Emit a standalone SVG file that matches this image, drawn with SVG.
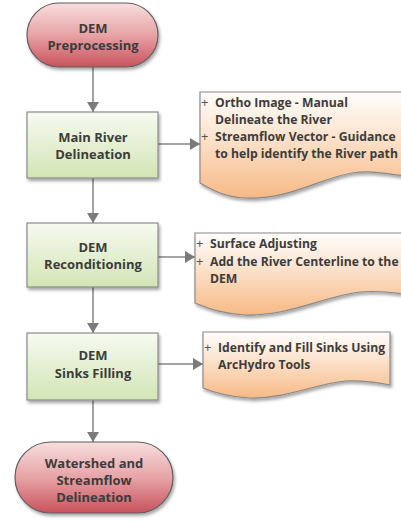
<svg xmlns="http://www.w3.org/2000/svg" width="401" height="522" viewBox="0 0 401 522">
<defs>
<linearGradient id="gRed" x1="0" y1="0" x2="0" y2="1">
<stop offset="0" stop-color="#f8dede"/><stop offset="0.5" stop-color="#e7a3a6"/><stop offset="1" stop-color="#c9525c"/>
</linearGradient>
<linearGradient id="gGreen" x1="0" y1="0" x2="0" y2="1">
<stop offset="0" stop-color="#f6faf0"/><stop offset="1" stop-color="#d3e5b5"/>
</linearGradient>
<linearGradient id="gOrange" x1="0" y1="0" x2="0" y2="1">
<stop offset="0" stop-color="#fffdfb"/><stop offset="0.35" stop-color="#fde8d6"/><stop offset="1" stop-color="#f7b985"/>
</linearGradient>
<filter id="sh" x="-10%" y="-10%" width="125%" height="130%">
<feDropShadow dx="1.5" dy="2.5" stdDeviation="1.8" flood-color="#000" flood-opacity="0.35"/>
</filter>
<marker id="arr" viewBox="0 0 10 12" refX="10" refY="6" markerWidth="10" markerHeight="12" markerUnits="userSpaceOnUse" orient="auto">
<path d="M0,0 L10,6 L0,12 Z" fill="#7b7b7b"/>
</marker>
</defs>
<style>
.term{fill:url(#gRed);stroke:#5f5f5f;stroke-width:1.2;filter:url(#sh)}
.box{fill:url(#gGreen);stroke:#8a8a8a;stroke-width:1.2;filter:url(#sh)}
.doc{fill:url(#gOrange);stroke:#8a8a8a;stroke-width:1.2;filter:url(#sh)}
.t{font-family:"Open Sans","Noto Sans","Liberation Sans",sans-serif;font-weight:bold;font-size:13px;fill:#3c3c3c;text-anchor:middle}
.d{font-family:"Open Sans","Noto Sans","Liberation Sans",sans-serif;font-weight:bold;font-size:12.2px;fill:#3c3c3c}
.p{font-family:"Open Sans","Noto Sans","Liberation Sans",sans-serif;font-weight:normal;font-size:13px;fill:#555}
.c{stroke:#858585;stroke-width:1.5;fill:none;marker-end:url(#arr)}
</style>
<g id="connectors">
<line class="c" x1="93" y1="67" x2="93" y2="112"/>
<line class="c" x1="93" y1="178" x2="93" y2="223"/>
<line class="c" x1="93" y1="287" x2="93" y2="333"/>
<line class="c" x1="93" y1="400" x2="93" y2="442"/>
<line class="c" x1="158" y1="144" x2="200" y2="144"/>
<line class="c" x1="158" y1="257" x2="195" y2="257"/>
<line class="c" x1="158" y1="364" x2="203" y2="364"/>
</g>
<g id="n1">
<rect class="term" x="27" y="3" width="131" height="64" rx="32"/>
<text class="t" x="93" y="33">DEM</text>
<text class="t" x="93" y="50">Preprocessing</text>
</g>
<g id="n2">
<rect class="box" x="27" y="112" width="131" height="66"/>
<text class="t" x="93" y="142">Main River</text>
<text class="t" x="93" y="159">Delineation</text>
</g>
<g id="d1">
<path class="doc" d="M200,92 H412 V177 C390,174 372,170 352,173 C320,178 290,200 245,198 C225,197 212,190 200,183 Z"/>
<text class="p" x="201" y="107">+</text>
<text class="d" x="215" y="107">Ortho Image - Manual</text>
<text class="d" x="215" y="124">Delineate the River</text>
<text class="p" x="201" y="141">+</text>
<text class="d" x="215" y="141">Streamflow Vector - Guidance</text>
<text class="d" x="215" y="158">to help identify the River path</text>
</g>
<g id="n3">
<rect class="box" x="27" y="223" width="131" height="64"/>
<text class="t" x="93" y="252">DEM</text>
<text class="t" x="93" y="269">Reconditioning</text>
</g>
<g id="d2">
<path class="doc" d="M195,233 H412 V295 C395,293 380,290 360,292 C325,296 290,316 245,315 C222,314 208,308 195,303 Z"/>
<text class="p" x="196" y="248">+</text>
<text class="d" x="210" y="248">Surface Adjusting</text>
<text class="p" x="196" y="266">+</text>
<text class="d" x="210" y="266">Add the River Centerline to the</text>
<text class="d" x="210" y="283">DEM</text>
</g>
<g id="n4">
<rect class="box" x="27" y="333" width="131" height="67"/>
<text class="t" x="93" y="360">DEM</text>
<text class="t" x="93" y="378">Sinks Filling</text>
</g>
<g id="d3">
<path class="doc" d="M203,332 H390 V385 C375,382 362,380 345,381 C315,384 285,399 250,398 C228,397 215,393 203,388 Z"/>
<text class="p" x="204" y="352">+</text>
<text class="d" x="218" y="352">Identify and Fill Sinks Using</text>
<text class="d" x="218" y="369">ArcHydro Tools</text>
</g>
<g id="n5">
<rect class="term" x="15" y="442" width="158" height="71" rx="35.5"/>
<text class="t" x="94" y="468">Watershed and</text>
<text class="t" x="94" y="485">Streamflow</text>
<text class="t" x="94" y="502">Delineation</text>
</g>
</svg>
